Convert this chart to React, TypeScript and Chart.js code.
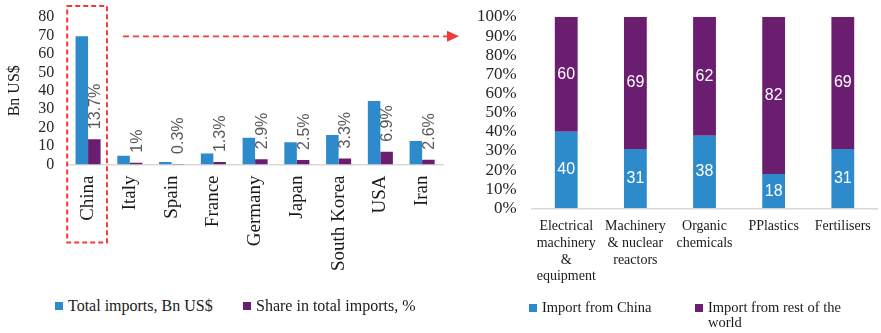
import React, { useEffect, useRef } from 'react';
import { Chart, registerables } from 'chart.js';

Chart.register(...registerables);

// ---------- data ----------
const countries = ['China', 'Italy', 'Spain', 'France', 'Germany', 'Japan', 'South Korea', 'USA', 'Iran'];
const totalImports = [69.5, 4.8, 1.3, 6, 14.5, 12, 16, 34.5, 12.7];
const shareInTotal = [13.7, 1, 0.3, 1.3, 2.9, 2.5, 3.3, 6.9, 2.6];
const leftSeriesNames = ['Total imports, Bn US$', 'Share in total imports, %'];
const leftAxisTitle = 'Bn US$';

const products = [
  ['Electrical', 'machinery', '&', 'equipment'],
  ['Machinery', '& nuclear', 'reactors'],
  ['Organic', 'chemicals'],
  ['PPlastics'],
  ['Fertilisers'],
];
const fromChina = [40, 31, 38, 18, 31];
const fromRest = [60, 69, 62, 82, 69];
const rightSeriesNames = ['Import from China', 'Import from rest of the world'];

// ---------- styles ----------
const BLUE = '#2E8BCB';
const PURPLE = '#6B1E6F';
const SERIF = '"Liberation Serif", "Times New Roman", serif';
const SANS = '"Liberation Sans", Arial, sans-serif';
const RED = '#F23A3A';

const noOverhang = (scale: any) => {
  scale.paddingTop = 0;
  scale.paddingBottom = 0;
};

const shareLabelsPlugin = {
  id: 'shareLabels',
  afterDatasetsDraw(chart: any) {
    const meta = chart.getDatasetMeta(1);
    const ctx = chart.ctx;
    ctx.save();
    ctx.font = '16px ' + SANS;
    ctx.fillStyle = '#595959';
    ctx.textAlign = 'left';
    ctx.textBaseline = 'middle';
    meta.data.forEach((el: any, i: number) => {
      ctx.save();
      ctx.translate(el.x + 1, el.y - 10);
      ctx.rotate(-Math.PI / 2);
      ctx.fillText(shareInTotal[i] + '%', 0, 0);
      ctx.restore();
    });
    ctx.restore();
  },
};

const highlightPlugin = {
  id: 'highlight',
  afterDraw(chart: any) {
    const xs = chart.scales.x;
    const area = chart.chartArea;
    const c = xs.getPixelForValue(0);
    const half = (xs.getPixelForValue(1) - c) / 2;
    const left = c - half;
    const right = c + half - 2;
    const top = area.top - 11;
    const bottom = area.bottom + 78;
    const ctx = chart.ctx;
    ctx.save();
    ctx.strokeStyle = RED;
    ctx.lineWidth = 2;
    ctx.setLineDash([5, 3]);
    ctx.strokeRect(left, top, right - left, bottom - top);
    // arrow at level of China bar top
    const y = chart.getDatasetMeta(0).data[0].y;
    const x0 = right + 16;
    const tip = chart.width - 1;
    ctx.lineWidth = 1.6;
    ctx.setLineDash([6, 4]);
    ctx.beginPath();
    ctx.moveTo(x0, y);
    ctx.lineTo(tip - 11, y);
    ctx.stroke();
    ctx.setLineDash([]);
    ctx.fillStyle = RED;
    ctx.beginPath();
    ctx.moveTo(tip, y);
    ctx.lineTo(tip - 12, y - 5.5);
    ctx.lineTo(tip - 12, y + 5.5);
    ctx.closePath();
    ctx.fill();
    ctx.restore();
  },
};

const innerLabelsPlugin = {
  id: 'innerLabels',
  afterDatasetsDraw(chart: any) {
    const ctx = chart.ctx;
    ctx.save();
    ctx.font = '16px ' + SANS;
    ctx.fillStyle = '#ffffff';
    ctx.textAlign = 'center';
    ctx.textBaseline = 'middle';
    chart.data.datasets.forEach((ds: any, di: number) => {
      const meta = chart.getDatasetMeta(di);
      meta.data.forEach((el: any, i: number) => {
        ctx.fillText(String(ds.data[i]), el.x, (el.y + el.base) / 2);
      });
    });
    ctx.restore();
  },
};

function LeftChart() {
  const ref = useRef<HTMLCanvasElement>(null);
  useEffect(() => {
    const chart = new Chart(ref.current as HTMLCanvasElement, {
      type: 'bar',
      data: {
        labels: countries,
        datasets: [
          { label: leftSeriesNames[0], data: totalImports, backgroundColor: BLUE },
          { label: leftSeriesNames[1], data: shareInTotal, backgroundColor: PURPLE },
        ],
      },
      options: {
        animation: false,
        responsive: false,
        layout: { padding: { left: 0, right: 17, top: 17, bottom: 8 } },
        datasets: { bar: { categoryPercentage: 0.6, barPercentage: 1 } },
        plugins: { legend: { display: false }, tooltip: { enabled: false } },
        scales: {
          x: {
            grid: { display: false, drawTicks: false },
            border: { color: '#d9d9d9', width: 1.5 },
            ticks: {
              autoSkip: false,
              maxRotation: 90,
              minRotation: 90,
              padding: 11,
              color: '#1a1a1a',
              font: { family: SERIF, size: 19 },
            },
          },
          y: {
            min: 0,
            max: 80,
            afterFit: noOverhang,
            grid: { display: false, drawTicks: false },
            border: { display: false },
            ticks: { autoSkip: false, stepSize: 10, padding: 13, color: '#262626', font: { family: SERIF, size: 16 } },
            title: {
              display: true,
              text: leftAxisTitle,
              color: '#1a1a1a',
              font: { family: SERIF, size: 16 },
              padding: { top: 5, bottom: 1 },
            },
          },
        },
      } as any,
      plugins: [shareLabelsPlugin, highlightPlugin],
    });
    return () => chart.destroy();
  }, []);
  return (
    <canvas
      ref={ref}
      width={460}
      height={290}
      style={{ position: 'absolute', left: 0, top: 0, width: 460, height: 290 }}
    />
  );
}

function RightChart() {
  const ref = useRef<HTMLCanvasElement>(null);
  useEffect(() => {
    const chart = new Chart(ref.current as HTMLCanvasElement, {
      type: 'bar',
      data: {
        labels: products as any,
        datasets: [
          { label: rightSeriesNames[0], data: fromChina, backgroundColor: BLUE },
          { label: rightSeriesNames[1], data: fromRest, backgroundColor: PURPLE },
        ],
      },
      options: {
        animation: false,
        responsive: false,
        layout: { padding: { left: 2, right: 2, top: 17, bottom: 5 } },
        datasets: { bar: { categoryPercentage: 0.33, barPercentage: 1 } },
        plugins: { legend: { display: false }, tooltip: { enabled: false } },
        scales: {
          x: {
            stacked: true,
            grid: { display: false, drawTicks: false },
            border: { color: '#d9d9d9', width: 1.5 },
            ticks: {
              autoSkip: false,
              maxRotation: 0,
              padding: 10,
              color: '#1a1a1a',
              font: { family: SERIF, size: 14, lineHeight: 1.19 },
            },
          },
          y: {
            stacked: true,
            min: 0,
            max: 100,
            afterFit: noOverhang,
            grid: { display: false, drawTicks: false },
            border: { display: false },
            ticks: {
              autoSkip: false,
              stepSize: 10,
              padding: 15,
              color: '#262626',
              font: { family: SERIF, size: 17 },
              callback: (v: any) => v + '%',
            },
          },
        },
      } as any,
      plugins: [innerLabelsPlugin],
    });
    return () => chart.destroy();
  }, []);
  return (
    <canvas
      ref={ref}
      width={421}
      height={300}
      style={{ position: 'absolute', left: 460, top: 0, width: 421, height: 300 }}
    />
  );
}

function LegendItem(props: { left: number; top: number; color: string; text: string; size: number; maxWidth?: number }) {
  return (
    <div
      style={{
        position: 'absolute',
        left: props.left,
        top: props.top,
        display: 'flex',
        alignItems: 'flex-start',
        fontFamily: SERIF,
        fontSize: props.size,
        lineHeight: '15px',
        color: '#1a1a1a',
      }}
    >
      <span style={{ width: 8, height: 8, background: props.color, marginTop: 4, marginRight: 5, flex: 'none' }} />
      <span style={{ maxWidth: props.maxWidth, whiteSpace: props.maxWidth ? 'normal' : 'nowrap' }}>{props.text}</span>
    </div>
  );
}

export default function App() {
  return (
    <div style={{ position: 'fixed', left: 0, top: 0, width: 881, height: 333, background: '#fff', overflow: 'hidden' }}>
      <LeftChart />
      <RightChart />
      <LegendItem left={55} top={298} color={BLUE} text={leftSeriesNames[0]} size={16} />
      <LegendItem left={243} top={298} color={PURPLE} text={leftSeriesNames[1]} size={16} />
      <LegendItem left={529} top={300} color={BLUE} text={rightSeriesNames[0]} size={14.5} />
      <LegendItem left={695} top={300} color={PURPLE} text={rightSeriesNames[1]} size={14.5} maxWidth={150} />
    </div>
  );
}
